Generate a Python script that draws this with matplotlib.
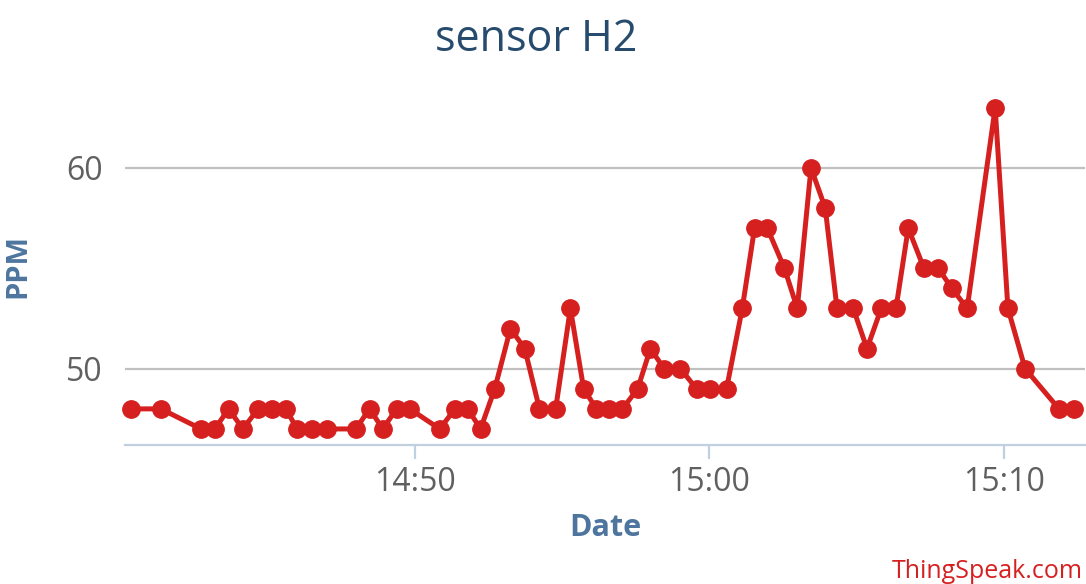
import matplotlib
matplotlib.use("Agg")
import matplotlib.pyplot as plt
import matplotlib.dates as mdates
from datetime import datetime

# sensor readings (time of sample, ppm)
times = ["14:40:22", "14:41:23", "14:42:45", "14:43:13", "14:43:41", "14:44:10",
         "14:44:41", "14:45:09", "14:45:38", "14:46:00", "14:46:31", "14:47:01",
         "14:48:00", "14:48:28", "14:48:55", "14:49:23", "14:49:50", "14:50:51",
         "14:51:22", "14:51:48", "14:52:14", "14:52:43", "14:53:15", "14:53:44",
         "14:54:14", "14:54:47", "14:55:17", "14:55:44", "14:56:10", "14:56:35",
         "14:57:03", "14:57:34", "14:58:00", "14:58:28", "14:59:01", "14:59:34",
         "15:00:02", "15:00:35", "15:01:07", "15:01:32", "15:01:58", "15:02:33",
         "15:02:59", "15:03:27", "15:03:56", "15:04:20", "15:04:53", "15:05:21",
         "15:05:50", "15:06:20", "15:06:45", "15:07:17", "15:07:46", "15:08:14",
         "15:08:45", "15:09:42", "15:10:08", "15:10:43", "15:11:52", "15:12:22"]
ppm = [48, 48, 47, 47, 48, 47, 48, 48, 48, 47, 47, 47,
       47, 48, 47, 48, 48, 47, 48, 48, 47, 49, 52, 51,
       48, 48, 53, 49, 48, 48, 48, 49, 51, 50, 50, 49,
       49, 49, 53, 57, 57, 55, 53, 60, 58, 53, 53, 51,
       53, 53, 57, 55, 55, 54, 53, 63, 53, 50, 48, 48]
x_ticks = ["14:50", "15:00", "15:10"]
y_ticks = [50, 60]

def to_dt(s):
    fmt = "%H:%M:%S" if s.count(":") == 2 else "%H:%M"
    return datetime.strptime("2015-01-01 " + s, "%Y-%m-%d " + fmt)

xs = [to_dt(t) for t in times]

plt.rcParams['font.family'] = ['Open Sans', 'DejaVu Sans']

fig = plt.figure(figsize=(10.86, 5.84), dpi=100)
ax = fig.add_axes([0.1151, 0.238, 0.884, 0.612])

red = '#d62020'
ax.plot(xs, ppm, color=red, lw=3.6, marker='o', ms=12.5, zorder=3, clip_on=False)

ax.set_xlim(to_dt("14:40:10"), to_dt("15:12:45"))
ax.set_ylim(46.2, 64)

ax.set_yticks(y_ticks)
ax.set_xticks([to_dt(t) for t in x_ticks])
ax.xaxis.set_major_formatter(mdates.DateFormatter("%H:%M"))

ax.grid(axis='y', color='#c0c0c0', lw=1.6)
ax.set_axisbelow(True)
for s in ['top', 'right', 'left']:
    ax.spines[s].set_visible(False)
ax.spines['bottom'].set_color('#c0d0e0')
ax.spines['bottom'].set_linewidth(1.6)

ax.tick_params(axis='y', length=0, labelsize=23, labelcolor='#606060', pad=16)
ax.tick_params(axis='x', length=10, width=1.6, color='#c0d0e0', labelsize=23,
               labelcolor='#606060', pad=5)

ax.set_xlabel("Date", fontsize=22, fontweight='bold', color='#4d759e', labelpad=10)
ax.set_ylabel("PPM", fontsize=21, fontweight='bold', color='#4d759e', labelpad=24)

fig.text(0.494, 0.932, "sensor H2", ha='center', va='center', fontsize=31, color='#274b6d')
fig.text(0.997, 0.022, "ThingSpeak.com", ha='right', va='center', fontsize=18, color=red)

fig.savefig("out.png", dpi=100, facecolor='white')
